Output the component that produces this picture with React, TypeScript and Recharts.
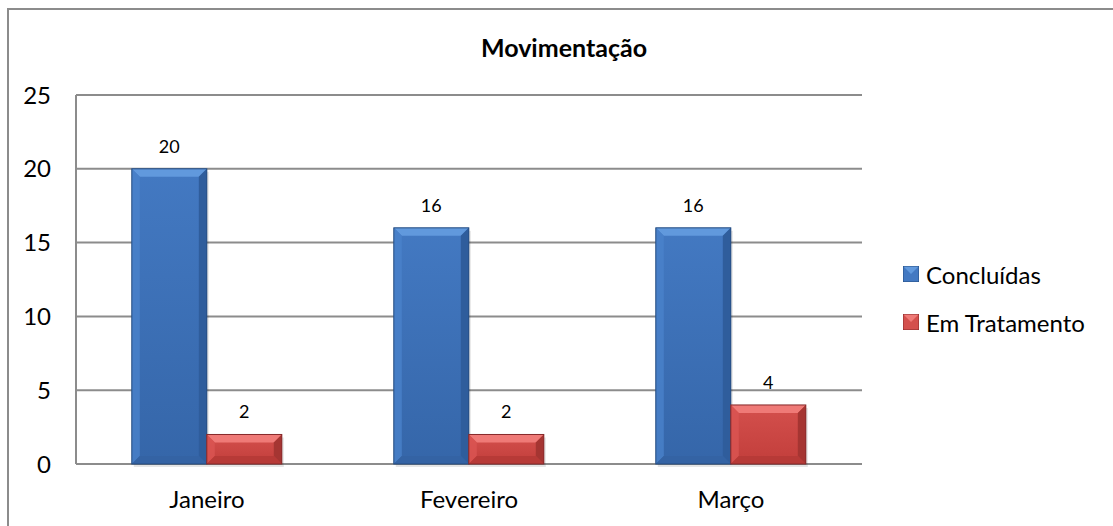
import React from "react";
import { BarChart, Bar, XAxis, YAxis, CartesianGrid, LabelList, Legend } from "recharts";

const months = ["Janeiro", "Fevereiro", "Março"];
const concluidas = [20, 16, 16];
const emTratamento = [2, 2, 4];
const yTicks = [0, 5, 10, 15, 20, 25];

const data = months.map((m, i) => ({ month: m, concluidas: concluidas[i], emTratamento: emTratamento[i] }));

const FONT = "Lato, 'Open Sans', sans-serif";

const palettes: Record<string, { hi: string; lo: string; top: string; left: string; right: string; bottom: string; edge: string }> = {
  blue: { hi: "#4379C2", lo: "#3566A9", top: "#6199DD", left: "#4A82CA", right: "#2F5D9C", bottom: "#3463A4", edge: "#254C80" },
  red: { hi: "#D4504D", lo: "#C23E3B", top: "#EF7A77", left: "#DB5552", right: "#A53532", bottom: "#B73a37", edge: "#86292A" },
};

function BevelBar(props: any) {
  const { x, y, width: w, height: h, tone } = props;
  if (!h || h <= 0) return null;
  const p = palettes[tone];
  const b = Math.min(8, h / 2);
  const gid = `g-${tone}`;
  return (
    <g>
      <defs>
        <linearGradient id={gid} x1="0" y1="0" x2="0" y2="1">
          <stop offset="0%" stopColor={p.hi} />
          <stop offset="100%" stopColor={p.lo} />
        </linearGradient>
      </defs>
      <rect x={x + 2} y={y + 3} width={w} height={h} fill="#000" opacity={0.1} />
      <rect x={x} y={y} width={w} height={h} fill={`url(#${gid})`} />
      <polygon points={`${x},${y} ${x + w},${y} ${x + w - b},${y + b} ${x + b},${y + b}`} fill={p.top} />
      <polygon points={`${x},${y} ${x + b},${y + b} ${x + b},${y + h - b} ${x},${y + h}`} fill={p.left} opacity={0.8} />
      <polygon points={`${x + w},${y} ${x + w},${y + h} ${x + w - b},${y + h - b} ${x + w - b},${y + b}`} fill={p.right} />
      <polygon points={`${x},${y + h} ${x + w},${y + h} ${x + w - b},${y + h - b} ${x + b},${y + h - b}`} fill={p.bottom} />
      <rect x={x} y={y} width={w} height={h} fill="none" stroke={p.edge} strokeWidth={1} />
    </g>
  );
}

function LegendBox({ payload }: any) {
  return (
    <div style={{ fontFamily: FONT, fontSize: 24, color: "#000" }}>
      {(payload || []).map((item: any) => {
        const p = palettes[item.dataKey === "concluidas" ? "blue" : "red"];
        return (
          <div key={item.value} style={{ display: "flex", alignItems: "center", height: 48 }}>
            <svg width={16} height={16} style={{ marginRight: 7 }}>
              <rect x={0} y={0} width={16} height={16} fill={p.hi} />
              <polygon points="0,0 16,0 8,8" fill={p.top} />
              <rect x={0} y={0} width={16} height={16} fill="none" stroke={p.edge} />
            </svg>
            <span>{item.value}</span>
          </div>
        );
      })}
    </div>
  );
}

export default function App() {
  return (
    <div style={{ position: "absolute", left: 0, top: 0, width: 1113, height: 526, overflow: "hidden", background: "#fff" }}>
      <div style={{ position: "absolute", left: 7, top: 8, width: 1300, height: 700, borderLeft: "2px solid #8c8c8c", borderTop: "2px solid #8c8c8c" }} />
      <div style={{ position: "absolute", left: 0, width: 1128, top: 32, textAlign: "center", fontFamily: FONT, fontWeight: 700, fontSize: 25, color: "#000" }}>
        Movimentação
      </div>
      <div style={{ position: "absolute", left: 0, top: 0 }}>
        <BarChart width={1113} height={526} data={data} margin={{ top: 95, right: 251, bottom: 0, left: 0 }} barCategoryGap="21.3%" barGap={0}>
          <CartesianGrid horizontal vertical={false} stroke="#8c8c8c" strokeWidth={2} />
          <XAxis dataKey="month" axisLine={false} tickLine={false} tickSize={0} tickMargin={27} height={62}
            tick={{ fontFamily: FONT, fontSize: 24, fill: "#000" }} />
          <YAxis domain={[0, 25]} ticks={yTicks} width={76} axisLine={{ stroke: "#8c8c8c", strokeWidth: 2 }} tickLine={false}
            tickSize={0} tickMargin={25} tick={{ fontFamily: FONT, fontSize: 24, fill: "#000" }} />
          <Legend layout="vertical" align="center" verticalAlign="middle" content={<LegendBox />}
            wrapperStyle={{ left: 903, top: 250, width: 210 }} />
          <Bar dataKey="concluidas" name="Concluídas" fill="#3C70B6" isAnimationActive={false} shape={(p: any) => <BevelBar {...p} tone="blue" />}>
            <LabelList dataKey="concluidas" position="top" offset={16} style={{ fontFamily: FONT, fontSize: 18, fill: "#000" }} />
          </Bar>
          <Bar dataKey="emTratamento" name="Em Tratamento" fill="#CC4542" isAnimationActive={false} shape={(p: any) => <BevelBar {...p} tone="red" />}>
            <LabelList dataKey="emTratamento" position="top" offset={16} style={{ fontFamily: FONT, fontSize: 18, fill: "#000" }} />
          </Bar>
        </BarChart>
      </div>
    </div>
  );
}
